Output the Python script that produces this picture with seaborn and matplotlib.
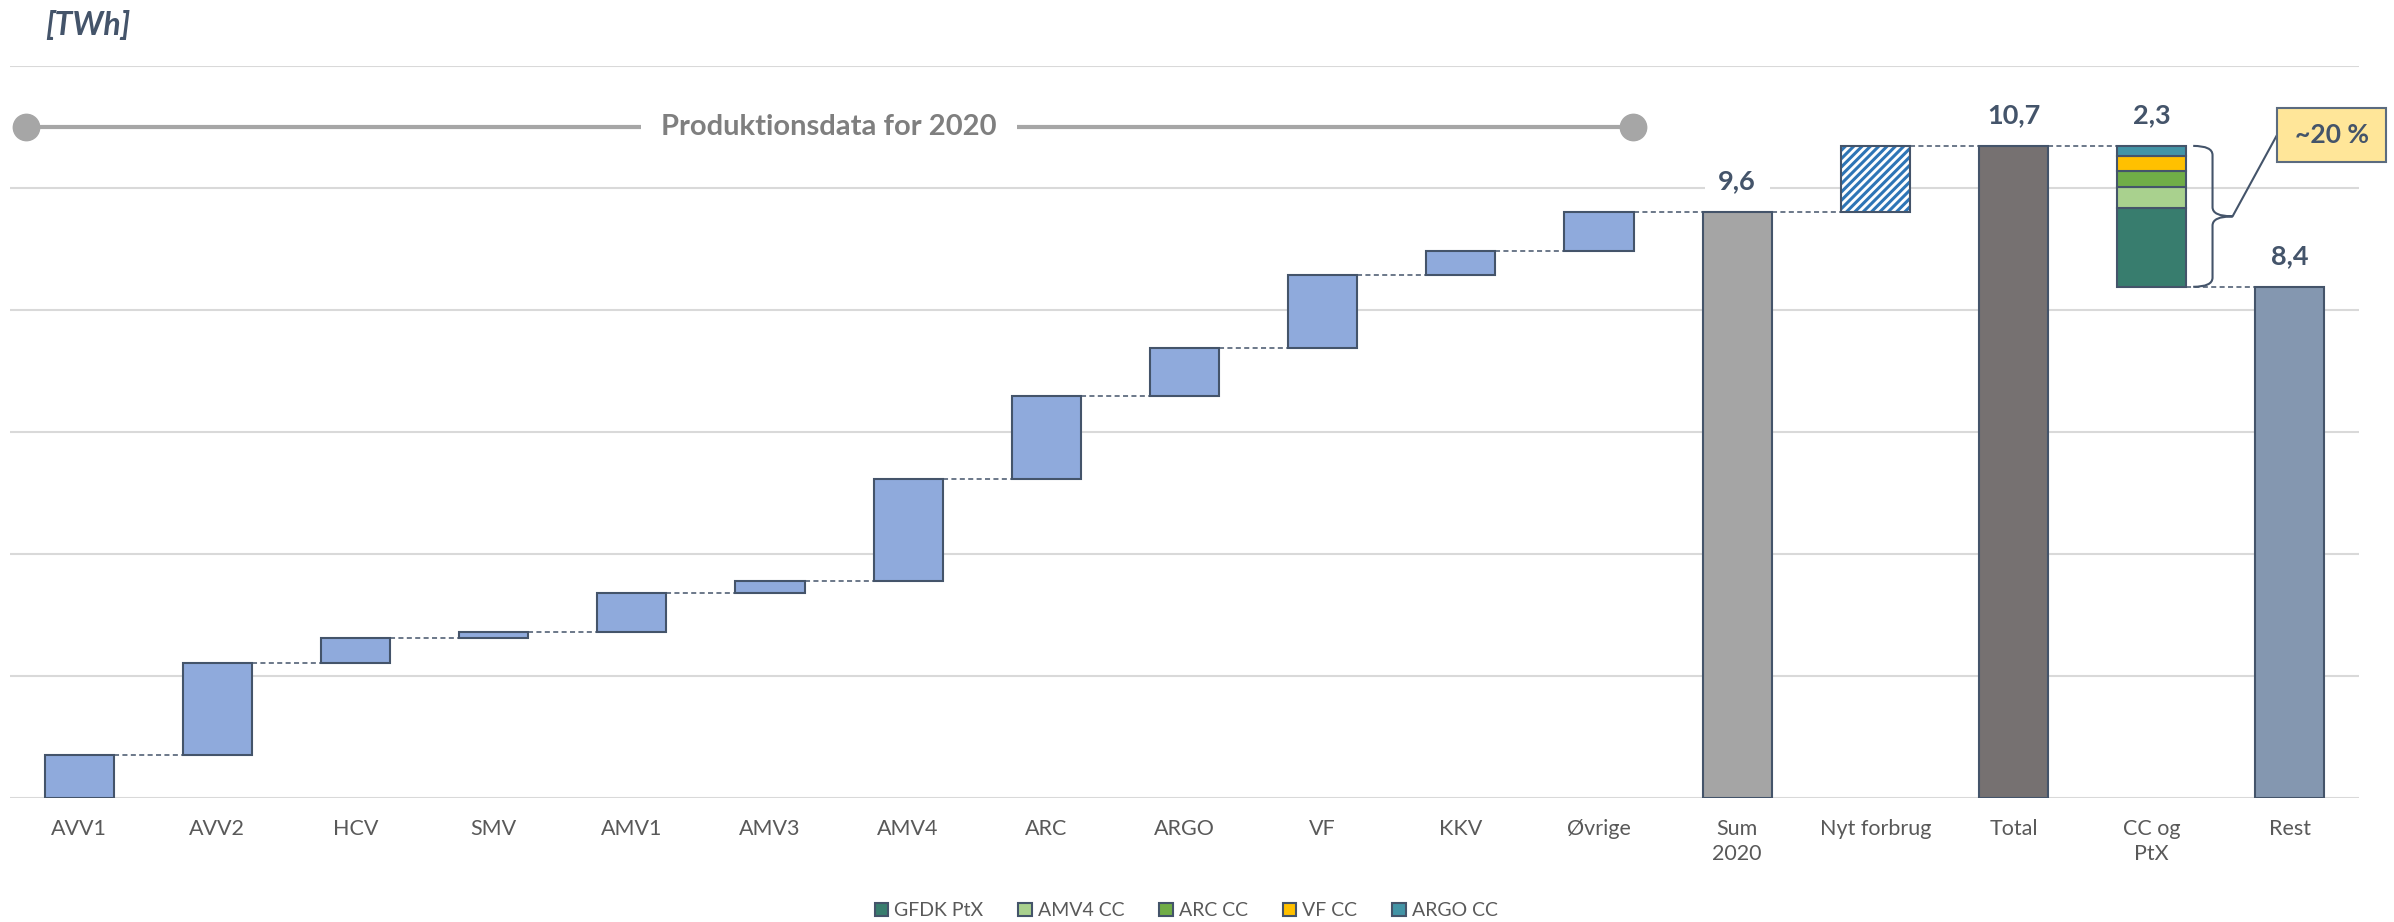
import numpy as np
import pandas as pd
import seaborn as sns
import matplotlib.pyplot as plt
from matplotlib.path import Path
from matplotlib.patches import PathPatch, Rectangle, Patch

# data [TWh]
categories = ["AVV1", "AVV2", "HCV", "SMV", "AMV1", "AMV3", "AMV4", "ARC", "ARGO",
              "VF", "KKV", "Øvrige", "Sum\n2020", "Nyt forbrug", "Total", "CC og\nPtX", "Rest"]
plant_values = [0.71, 1.51, 0.40, 0.10, 0.64, 0.19, 1.68, 1.36, 0.79, 1.20, 0.39, 0.64]
new_demand = 1.08
cc_labels = ["GFDK PtX", "AMV4 CC", "ARC CC", "VF CC", "ARGO CC"]
cc_values = [1.30, 0.33, 0.27, 0.24, 0.17]
cc_colors = ["#387d6e", "#a9d18e", "#70ad47", "#ffc000", "#4294a6"]
share_text = "~20 %"
band_text = "Produktionsdata for 2020"

sns.set_theme(style="white")
plt.rcParams['font.family'] = ['Lato', 'DejaVu Sans']
plt.rcParams['hatch.linewidth'] = 2.2

dark = "#44546a"
grey_txt = "#595959"

tops = np.cumsum(plant_values)
bottoms = tops - np.array(plant_values)
sum2020 = tops[-1]
total = sum2020 + new_demand
cc_total = sum(cc_values)
rest = total - cc_total

fig = plt.figure(figsize=(23.94, 9.22), dpi=100)
ax = fig.add_axes([10/2394, 0.1345, 2349/2394, 732/922])

def bar(cat, bottom, height, color, **kw):
    opts = dict(edgecolor=dark, linewidth=1.5)
    opts.update(kw)
    sns.barplot(x=[cat], y=[height], order=categories, bottom=bottom, color=color,
                width=0.5, saturation=1, errorbar=None, ax=ax, **opts)

# waterfall steps
for cat, b, v in zip(categories[:12], bottoms, plant_values):
    bar(cat, b, v, "#8faadc")

bar(categories[12], 0, sum2020, "#a5a5a5")
# new demand: hatched
bar(categories[13], sum2020, new_demand, "white", edgecolor="#2e75b6", linewidth=0, hatch="////")
sns.barplot(x=[categories[13]], y=[new_demand], order=categories, bottom=sum2020, color=dark,
            fill=False, width=0.5, errorbar=None, linewidth=1.5, ax=ax)
bar(categories[14], 0, total, "#767171")

# stacked CC og PtX
b = rest
for v, c in zip(cc_values, cc_colors):
    bar(categories[15], b, v, c)
    b += v

bar(categories[16], 0, rest, "#8497b0")

# dashed connectors
levels = list(tops) + [sum2020, total, total, rest]
for i, lv in enumerate(levels[:16]):
    ax.plot([i + 0.25, i + 0.75], [lv, lv], color=dark, lw=1.1, ls=(0, (3.3, 2.2)), zorder=1)

# value labels
for i, v in [(12, sum2020), (14, total), (15, cc_total), (16, rest)]:
    top = total if i == 15 else v
    ax.annotate(f"{v:.1f}".replace(".", ","), (i, top), xytext=(0, 22), textcoords="offset points",
                ha="center", va="center", fontsize=19.5, fontweight="bold", color=dark,
                bbox=dict(boxstyle="square,pad=0.5", fc="white", ec="none"))

# production band
x_l, x_r, y_b = -0.386, 11.244, 11.0
ax.plot([x_l, x_r], [y_b, y_b], color="#a6a6a6", lw=3, marker="o", markersize=19,
        solid_capstyle="butt", clip_on=False)
ax.text((x_l + x_r) / 2, y_b, band_text, ha="center", va="center", fontsize=21,
        fontweight="bold", color="#7f7f7f",
        bbox=dict(boxstyle="square,pad=0.7", fc="white", ec="none"))

# brace next to CC og PtX
x0, x1, x2 = 15.30, 15.44, 15.585
ymid = (total + rest) / 2
r = 0.15
verts = [(x0, total), (x1, total), (x1, total - r), (x1, ymid + r), (x1, ymid), (x2, ymid),
         (x1, ymid), (x1, ymid - r), (x1, rest + r), (x1, rest), (x0, rest)]
codes = [Path.MOVETO, Path.CURVE3, Path.CURVE3, Path.LINETO, Path.CURVE3, Path.CURVE3,
         Path.CURVE3, Path.CURVE3, Path.LINETO, Path.CURVE3, Path.CURVE3]
ax.add_patch(PathPatch(Path(verts, codes), fc="none", ec=dark, lw=1.5))

# callout box
bx, by, bw, bh = 15.908, 10.433, 0.79, 0.883
ax.plot([x2, bx], [ymid, by + bh / 2], color=dark, lw=1.5, clip_on=False)
ax.add_patch(Rectangle((bx, by), bw, bh, fc="#ffe699", ec="#5b6b7f", lw=1.5, clip_on=False, zorder=5))
ax.text(bx + bw / 2, by + bh / 2, share_text, ha="center", va="center", fontsize=19,
        fontweight="bold", color=dark, zorder=6)

ax.set_xlim(-0.5, 16.5)
ax.set_ylim(0, 12)
ax.set_yticks(range(0, 13, 2))
ax.yaxis.grid(True, color="#d9d9d9", lw=1.5)
ax.set_axisbelow(True)
ax.tick_params(axis="y", left=False, labelleft=False)
ax.tick_params(axis="x", length=0, pad=15, labelsize=15.5, labelcolor=grey_txt)
for t in ax.get_xticklabels():
    t.set_linespacing(1.35)
ax.set_xlabel("")
ax.set_ylabel("")
sns.despine(ax=ax, left=True, bottom=True)

fig.text(45/2394, 1 - 25/922, "[TWh]", ha="left", va="center", fontsize=23,
         fontweight="bold", fontstyle="italic", color=dark)

handles = [Patch(facecolor=c, edgecolor=dark, lw=1.5) for c in cc_colors]
fig.legend(handles, cc_labels, loc="center", bbox_to_anchor=(0.4955, 0.012), ncol=5,
           frameon=False, fontsize=14, handlelength=0.7, handleheight=0.7,
           handletextpad=0.3, columnspacing=1.8, labelcolor=grey_txt)

fig.savefig("out.png", dpi=100)
